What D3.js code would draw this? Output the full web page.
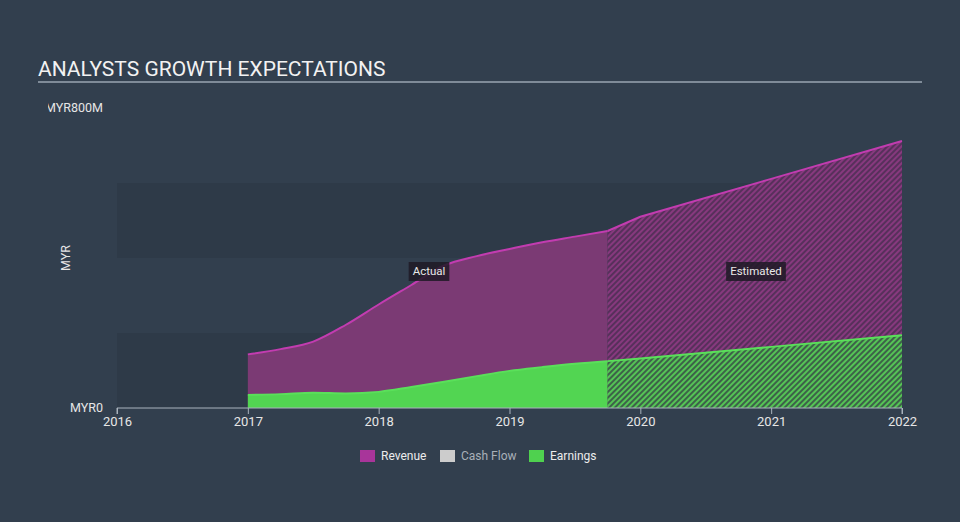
<!DOCTYPE html>
<html>
<head>
<meta charset="utf-8">
<script src="https://cdn.jsdelivr.net/npm/d3@7"></script>
<style>
html,body{margin:0;padding:0;background:#323f4e;}
svg{display:block;font-family:Roboto, "Open Sans", sans-serif;}
</style>
</head>
<body>
<svg id="chart" width="960" height="522"></svg>
<script>
// ---- data ----
const xTicks = [2016, 2017, 2018, 2019, 2020, 2021, 2022];
const yTickLabels = ["MYR0", "MYR800M"];
const yTickValues = [0, 800];
const revenueActual = [
  [2017.0, 143], [2017.25, 157], [2017.5, 177], [2017.75, 222], [2018.0, 276],
  [2018.25, 328], [2018.5, 380], [2018.75, 405], [2019.0, 424], [2019.25, 442],
  [2019.5, 457], [2019.75, 472]
];
const revenueEstimate = [[2019.75, 472], [2020.0, 510], [2021.0, 611], [2022.0, 712]];
const earningsActual = [
  [2017.0, 35], [2017.25, 37], [2017.5, 41], [2017.75, 39], [2018.0, 43],
  [2018.25, 56], [2018.5, 70], [2018.75, 85], [2019.0, 99], [2019.25, 109],
  [2019.5, 118], [2019.75, 125]
];
const earningsEstimate = [[2019.75, 125], [2020.0, 132], [2021.0, 163], [2022.0, 194]];
const legendItems = ["Revenue", "Cash Flow", "Earnings"];
const bandRanges = [[0, 200], [400, 600]];

// ---- layout ----
const svg = d3.select("#chart");
const x = d3.scaleLinear().domain([2016, 2022]).range([117, 902]);
const y = d3.scaleLinear().domain([0, 800]).range([408, 108]);

const defs = svg.append("defs");
function hatch(id, bg, fg) {
  const p = defs.append("pattern").attr("id", id).attr("patternUnits", "userSpaceOnUse")
    .attr("width", 4).attr("height", 4).attr("patternTransform", "rotate(-45)");
  p.append("rect").attr("width", 4).attr("height", 4).attr("fill", bg);
  p.append("rect").attr("width", 4).attr("height", 2).attr("fill", fg);
}
hatch("hRev", "#57305b", "#87397e");
hatch("hEarn", "#3d6149", "#55c455");
defs.append("clipPath").attr("id", "lblClip").append("rect")
  .attr("x", 48).attr("y", 90).attr("width", 100).attr("height", 30);

// bands
svg.selectAll("rect.band").data(bandRanges).enter().append("rect")
  .attr("x", x(2016)).attr("width", x(2022) - x(2016))
  .attr("y", d => y(d[1])).attr("height", d => y(d[0]) - y(d[1]))
  .attr("fill", "#2e3a48");

// title
svg.append("text").attr("x", 38).attr("y", 76).attr("fill", "#f2f2f2")
  .attr("font-size", 21).text("ANALYSTS GROWTH EXPECTATIONS");
svg.append("line").attr("x1", 38).attr("x2", 922).attr("y1", 82).attr("y2", 82)
  .attr("stroke", "#9aa6b2").attr("stroke-width", 1.5);

const area = d3.area().x(d => x(d[0])).y0(y(0)).y1(d => y(d[1])).curve(d3.curveMonotoneX);
const line = d3.line().x(d => x(d[0])).y(d => y(d[1])).curve(d3.curveMonotoneX);
const areaL = d3.area().x(d => x(d[0])).y0(y(0)).y1(d => y(d[1]));
const lineL = d3.line().x(d => x(d[0])).y(d => y(d[1]));

// revenue
svg.append("path").attr("d", area(revenueActual)).attr("fill", "#7b3a74");
svg.append("path").attr("d", areaL(revenueEstimate)).attr("fill", "url(#hRev)");
// earnings
svg.append("path").attr("d", area(earningsActual)).attr("fill", "#52d552");
svg.append("path").attr("d", areaL(earningsEstimate)).attr("fill", "url(#hEarn)");
// lines
svg.append("path").attr("d", line(revenueActual)).attr("fill", "none").attr("stroke", "#c23cb0").attr("stroke-width", 2);
svg.append("path").attr("d", lineL(revenueEstimate)).attr("fill", "none").attr("stroke", "#c23cb0").attr("stroke-width", 2);
svg.append("path").attr("d", line(earningsActual)).attr("fill", "none").attr("stroke", "#5ae05a").attr("stroke-width", 2);
svg.append("path").attr("d", lineL(earningsEstimate)).attr("fill", "none").attr("stroke", "#5ae05a").attr("stroke-width", 2);

// x axis
const xAxis = svg.append("g").attr("transform", `translate(0,${y(0)})`)
  .call(d3.axisBottom(x).tickValues(xTicks).tickFormat(d3.format("d")).tickSize(6).tickPadding(3));
xAxis.select(".domain").attr("stroke", "#a9b3bd").attr("d", `M${x(2016)},6V0H${x(2022)}V6`);
xAxis.selectAll(".tick line").attr("stroke", "#a9b3bd");
xAxis.selectAll(".tick text").attr("fill", "#e6e6e6").attr("font-size", 13)
  .attr("font-family", "Roboto, sans-serif");

// y labels
svg.append("g").attr("clip-path", "url(#lblClip)").append("text")
  .attr("x", 103).attr("y", y(yTickValues[1])).attr("dy", "0.35em").attr("text-anchor", "end")
  .attr("fill", "#e6e6e6").attr("font-size", 12.5).text(yTickLabels[1]);
svg.append("text").attr("x", 103).attr("y", y(yTickValues[0])).attr("dy", "0.3em").attr("text-anchor", "end")
  .attr("fill", "#e6e6e6").attr("font-size", 12.5).text(yTickLabels[0]);
svg.append("text").attr("transform", "translate(70,258) rotate(-90)").attr("text-anchor", "middle")
  .attr("fill", "#e6e6e6").attr("font-size", 12.5).text("MYR");

// Actual / Estimated labels
function tag(cx, txt) {
  const g = svg.append("g");
  const t = g.append("text").attr("x", cx).attr("y", 271).attr("dy", "0.35em").attr("text-anchor", "middle")
    .attr("fill", "#e8e8e8").attr("font-size", 11.5).text(txt);
  const b = t.node().getBBox();
  g.insert("rect", "text").attr("x", b.x - 4).attr("y", 262).attr("width", b.width + 8).attr("height", 19)
    .attr("fill", "#1f1a26").attr("opacity", 0.85);
}
tag(429, "Actual");
tag(756, "Estimated");

// legend
const legColors = ["#a8359a", "#cccccc", "#4fd14f"];
const legText = ["#ececec", "#a9b0b8", "#ececec"];
const legX = [360, 440, 529];
legendItems.forEach((name, i) => {
  svg.append("rect").attr("x", legX[i]).attr("y", 450).attr("width", 15).attr("height", 12).attr("fill", legColors[i]);
  svg.append("text").attr("x", legX[i] + 21).attr("y", 456).attr("dy", "0.35em").attr("fill", legText[i])
    .attr("font-size", 12).text(name);
});
</script>
</body>
</html>
